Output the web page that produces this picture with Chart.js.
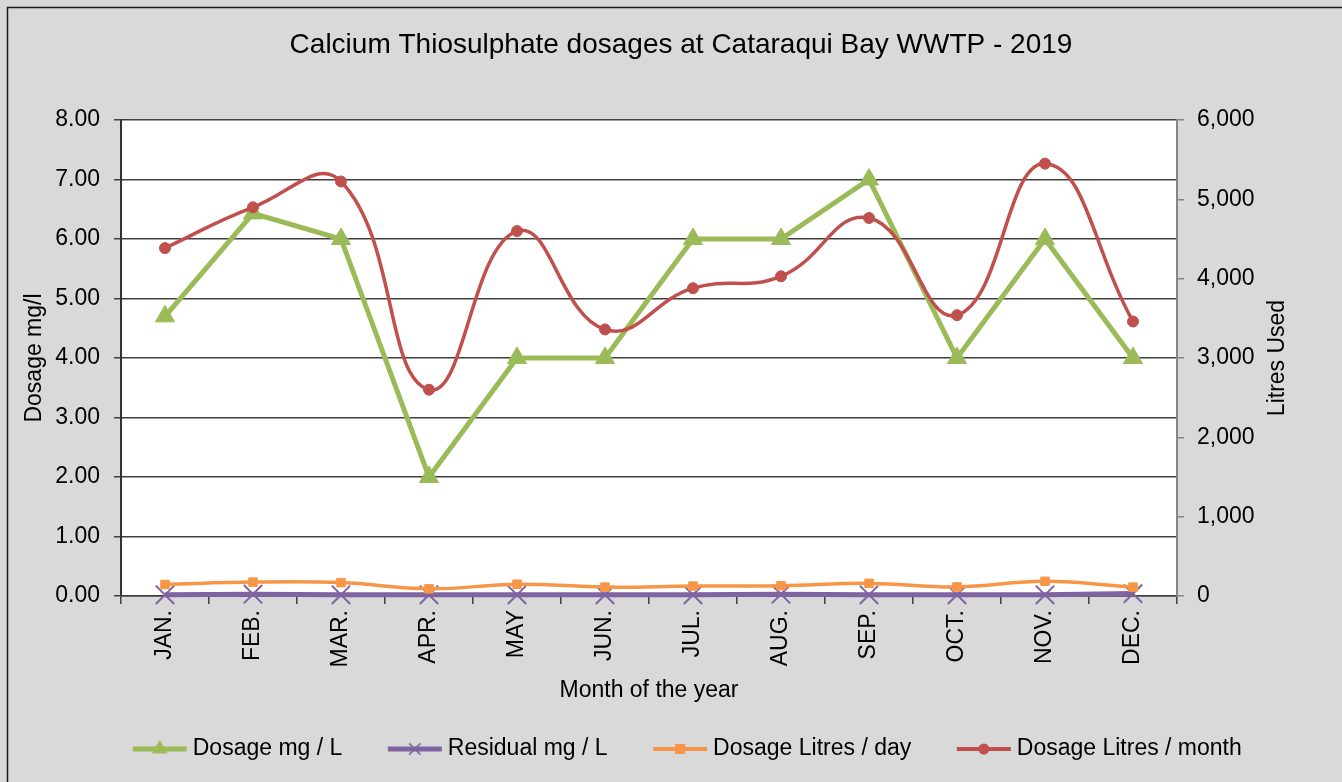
<!DOCTYPE html>
<html>
<head>
<meta charset="utf-8">
<script src="https://cdn.jsdelivr.net/npm/chart.js@4.4.1/dist/chart.umd.min.js"></script>
<style>
  html, body { margin: 0; padding: 0; background: #d9d9d9; }
  #wrap { width: 1342px; height: 782px; position: relative; }
</style>
</head>
<body>
<div id="wrap"><canvas id="c" width="1342" height="782"></canvas></div>
<script>
const months = ['JAN.', 'FEB.', 'MAR.', 'APR.', 'MAY', 'JUN.', 'JUL.', 'AUG.', 'SEP.', 'OCT.', 'NOV.', 'DEC.'];
const dosageMgL = [4.7, 6.43, 6.0, 2.0, 4.0, 4.0, 6.0, 6.0, 7.0, 4.0, 6.0, 4.0];
const residualMgL = [0.02, 0.03, 0.02, 0.02, 0.02, 0.02, 0.02, 0.03, 0.02, 0.02, 0.02, 0.04];
const litresPerDay = [145, 175, 169, 90, 148, 112, 125, 130, 159, 114, 185, 112];
const litresPerMonth = [4385, 4900, 5225, 2600, 4600, 3360, 3880, 4030, 4765, 3540, 5450, 3460];
const leftTicks = [0, 1, 2, 3, 4, 5, 6, 7, 8];
const rightTicks = [0, 1000, 2000, 3000, 4000, 5000, 6000];

const FONT = 'Liberation Sans, Arial, sans-serif';
const GREEN = '#9bbb59', PURPLE = '#8064a2', ORANGE = '#f79646', RED = '#c0504d';

function legendIcon(color, style, lw, r) {
  const cv = document.createElement('canvas');
  cv.width = 56; cv.height = 22;
  const g = cv.getContext('2d');
  g.strokeStyle = color; g.fillStyle = color; g.lineWidth = lw;
  g.beginPath(); g.moveTo(1, 11); g.lineTo(55, 11); g.stroke();
  const cx = 28, cy = 11;
  g.lineWidth = 1.5;
  if (style === 'triangle') {
    g.beginPath(); g.moveTo(cx, cy - r); g.lineTo(cx + r * 0.87, cy + r * 0.5); g.lineTo(cx - r * 0.87, cy + r * 0.5); g.closePath(); g.fill();
  } else if (style === 'crossRot') {
    g.beginPath(); g.moveTo(cx - r * 0.7, cy - r * 0.7); g.lineTo(cx + r * 0.7, cy + r * 0.7);
    g.moveTo(cx + r * 0.7, cy - r * 0.7); g.lineTo(cx - r * 0.7, cy + r * 0.7); g.stroke();
  } else if (style === 'rect') {
    g.fillRect(cx - r, cy - r, 2 * r, 2 * r);
  } else {
    g.beginPath(); g.arc(cx, cy, r, 0, Math.PI * 2); g.fill();
  }
  return cv;
}

const bgPlugin = {
  id: 'bg',
  afterLayout(chart) {
    if (chart.legend) {
      chart.legend.left += 18;
      chart.legend.top += 2;
      chart.legend.bottom += 2;
    }
  },
  beforeDraw(chart) {
    const { ctx, chartArea: a } = chart;
    ctx.save();
    ctx.fillStyle = '#d9d9d9';
    ctx.fillRect(0, 0, chart.width, chart.height);
    ctx.strokeStyle = '#1a1a1a'; ctx.lineWidth = 1.5;
    ctx.strokeRect(7.5, 7.5, chart.width + 20, chart.height + 20);
    ctx.fillStyle = '#ffffff';
    ctx.fillRect(a.left, a.top, a.right - a.left, a.bottom - a.top);
    ctx.restore();
  },
  afterDraw(chart) {
    const { ctx, chartArea: a } = chart;
    ctx.save();
    ctx.fillStyle = '#000';
    ctx.font = '23px ' + FONT;
    ctx.translate(1278, (a.top + a.bottom) / 2);
    ctx.rotate(-Math.PI / 2);
    ctx.textAlign = 'center'; ctx.textBaseline = 'middle';
    ctx.fillText('Litres Used', 0, 0);
    ctx.restore();
  }
};

new Chart(document.getElementById('c'), {
  type: 'line',
  data: {
    labels: months,
    datasets: [
      { label: 'Dosage mg / L', data: dosageMgL, yAxisID: 'y', borderColor: GREEN, backgroundColor: GREEN,
        borderWidth: 5, tension: 0, pointStyle: 'triangle', pointRadius: 11, pointBorderWidth: 1, order: 2, clip: false },
      { label: 'Residual mg / L', data: residualMgL, yAxisID: 'y', borderColor: PURPLE, backgroundColor: PURPLE,
        borderWidth: 5, tension: 0, pointStyle: 'crossRot', pointRadius: 13, pointBorderWidth: 2, order: 4, clip: false },
      { label: 'Dosage Litres / day', data: litresPerDay, yAxisID: 'y1', borderColor: ORANGE, backgroundColor: ORANGE,
        borderWidth: 3.5, tension: 0.4, pointStyle: 'rect', pointRadius: 6, pointBorderWidth: 1, order: 3, clip: false },
      { label: 'Dosage Litres / month', data: litresPerMonth, yAxisID: 'y1', borderColor: RED, backgroundColor: RED,
        borderWidth: 3.5, tension: 0.45, pointStyle: 'circle', pointRadius: 5.5, pointBorderWidth: 1, order: 1, clip: false }
    ]
  },
  options: {
    responsive: false,
    animation: false,
    layout: { padding: { left: 20, right: 0, top: 28, bottom: 13.5 } },
    plugins: {
      title: {
        display: true,
        text: 'Calcium Thiosulphate dosages at Cataraqui Bay WWTP - 2019',
        color: '#000',
        font: { family: FONT, size: 28, weight: 'normal' },
        padding: { top: 0, bottom: 58.4 }
      },
      legend: {
        position: 'bottom',
        labels: {
          color: '#000',
          font: { family: FONT, size: 23 },
          usePointStyle: true,
          pointStyleWidth: 43,
          padding: 51,
          generateLabels(chart) {
            const icons = [
              legendIcon(GREEN, 'triangle', 5, 9),
              legendIcon(PURPLE, 'crossRot', 5, 8),
              legendIcon(ORANGE, 'rect', 4, 5),
              legendIcon(RED, 'circle', 4, 5.5)
            ];
            return chart.data.datasets.map((d, i) => ({
              text: d.label, pointStyle: icons[i], fillStyle: d.borderColor, strokeStyle: d.borderColor,
              lineWidth: 0, hidden: false, datasetIndex: i, fontColor: '#000'
            }));
          }
        }
      },
      tooltip: { enabled: false }
    },
    scales: {
      x: {
        offset: true,
        grid: { offset: true, drawOnChartArea: false, drawTicks: true, tickLength: 8, color: '#404040', lineWidth: 1.5 },
        border: { color: '#404040', width: 1.5 },
        ticks: { color: '#000', font: { family: FONT, size: 23 }, minRotation: 90, maxRotation: 90, padding: 6 },
        title: { display: true, text: 'Month of the year', color: '#000', font: { family: FONT, size: 23 }, padding: { top: 0, bottom: -20.3 } },
        afterFit(s) { s.height = 88.5; }
      },
      y: {
        position: 'left',
        min: 0, max: 8,
        afterBuildTicks(s) { s.ticks = leftTicks.map(v => ({ value: v })); },
        grid: { color: '#404040', lineWidth: 1.5, tickLength: 7 },
        border: { color: '#333', width: 2 },
        ticks: { color: '#000', font: { family: FONT, size: 23 }, padding: 14, callback: v => Number(v).toFixed(2) },
        title: { display: true, text: 'Dosage mg/l', color: '#000', font: { family: FONT, size: 23 }, padding: { top: 1, bottom: 0 } },
        afterFit(s) { s.width = 101; }
      },
      y1: {
        position: 'right',
        min: 0, max: 6000,
        afterBuildTicks(s) { s.ticks = rightTicks.map(v => ({ value: v })); },
        grid: { drawOnChartArea: false, color: '#868686', lineWidth: 1.5, tickLength: 7 },
        border: { color: '#868686', width: 2 },
        ticks: { color: '#000', font: { family: FONT, size: 23 }, padding: 13, callback: v => Number(v).toLocaleString('en-US') },
        afterFit(s) { s.width = 165; }
      }
    }
  },
  plugins: [bgPlugin]
});
</script>
</body>
</html>
